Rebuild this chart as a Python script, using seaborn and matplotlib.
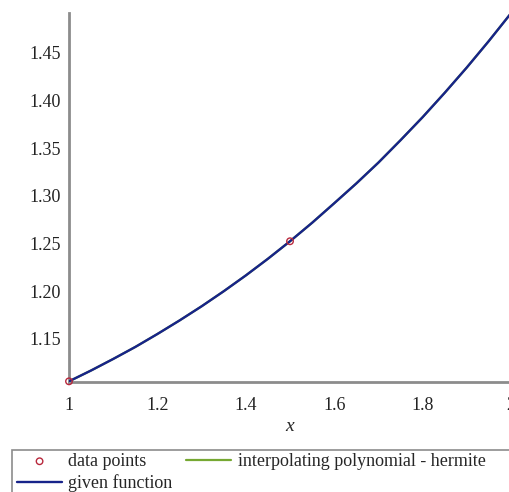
import matplotlib
matplotlib.use("Agg")
import matplotlib.pyplot as plt
from matplotlib.patches import Rectangle
from matplotlib.ticker import FixedLocator, AutoMinorLocator
import seaborn as sns
import pandas as pd

# Sampled curve values of the given function on [1, 2]
curve_x = [1.00, 1.05, 1.10, 1.15, 1.20, 1.25, 1.30, 1.35, 1.40, 1.45, 1.50,
           1.55, 1.60, 1.65, 1.70, 1.75, 1.80, 1.85, 1.90, 1.95, 2.00]
curve_y = [1.1052, 1.1166, 1.1287, 1.1413, 1.1549, 1.1691, 1.1840, 1.1998,
           1.2164, 1.2339, 1.2523, 1.2717, 1.2922, 1.3130, 1.3349, 1.3584,
           1.3826, 1.4082, 1.4348, 1.4627, 1.4918]

# Hermite interpolant (coincides with the function at this scale)
hermite_y = curve_y

# Interpolation nodes
pts_x = [1.0, 1.5]
pts_y = [1.1052, 1.2523]

x_ticks = [1.0, 1.2, 1.4, 1.6, 1.8, 2.0]
x_tick_labels = ["1", "1.2", "1.4", "1.6", "1.8", "2"]
y_ticks = [1.15, 1.20, 1.25, 1.30, 1.35, 1.40, 1.45]
y_tick_labels = ["1.15", "1.20", "1.25", "1.30", "1.35", "1.40", "1.45"]

sns.set_style("white")
plt.rcParams["font.family"] = ["Liberation Serif", "DejaVu Serif"]
plt.rcParams["font.size"] = 13

W, H = 510, 492
fig = plt.figure(figsize=(W / 100, H / 100), dpi=100)
ax = fig.add_axes([69 / W, 1 - 382 / H, (W - 69) / W + 0.002, (382 - 13) / H])

df_curve = pd.DataFrame({"x": curve_x, "f": curve_y, "h": hermite_y})
df_pts = pd.DataFrame({"x": pts_x, "y": pts_y})

green = "#76a832"
navy = "#17238a"
red = "#b8283c"

sns.lineplot(data=df_curve, x="x", y="h", ax=ax, color=green, linewidth=1.6,
             label="interpolating polynomial - hermite", legend=False)
sns.lineplot(data=df_curve, x="x", y="f", ax=ax, color=navy, linewidth=1.7,
             label="given function", legend=False, zorder=3)
sns.scatterplot(data=df_pts, x="x", y="y", ax=ax, marker="o", s=22,
                facecolor="none", edgecolor=red, linewidth=1.0,
                label="data points", legend=False, zorder=4, clip_on=False)

ax.set_xlim(1.0, 2.0)
ax.set_ylim(1.1045, 1.492)

ax.xaxis.set_major_locator(FixedLocator(x_ticks))
ax.set_xticklabels(x_tick_labels)
ax.yaxis.set_major_locator(FixedLocator(y_ticks))
ax.set_yticklabels(y_tick_labels)
ax.xaxis.set_minor_locator(AutoMinorLocator(4))
ax.yaxis.set_minor_locator(AutoMinorLocator(5))

ax.set_xlabel("x", fontstyle="italic", fontsize=14, labelpad=3)
ax.set_ylabel("")

for side in ["top", "right"]:
    ax.spines[side].set_visible(False)
for side in ["left", "bottom"]:
    ax.spines[side].set_color("#8c8c8c")
    ax.spines[side].set_linewidth(2.0)

ax.tick_params(axis="both", which="major", direction="out", length=4,
               width=1, color="#8c8c8c", labelsize=13, labelcolor="#222222")
ax.tick_params(axis="x", which="major", pad=7)
ax.tick_params(axis="y", which="major", pad=2)
ax.tick_params(axis="both", which="minor", direction="out", length=2,
               width=0.8, color="#b0b0b0")

# Legend box below the plot
fig.patches.append(Rectangle((12 / W, -0.05), 1.1, (1 - 450 / H) + 0.05,
                             transform=fig.transFigure, fill=False,
                             edgecolor="#8c8c8c", linewidth=1.2))

handles, labels = ax.get_legend_handles_labels()
order = [labels.index("data points"), labels.index("given function"),
         labels.index("interpolating polynomial - hermite")]
fig.legend([handles[i] for i in order], [labels[i] for i in order],
           loc="upper left", bbox_to_anchor=(17 / W, 1 - 453 / H),
           ncol=2, frameon=False, fontsize=13, handlelength=2.5,
           handletextpad=0.35, columnspacing=0.75, labelspacing=0.25,
           borderpad=0, borderaxespad=0)

fig.savefig("out.png", dpi=100)
